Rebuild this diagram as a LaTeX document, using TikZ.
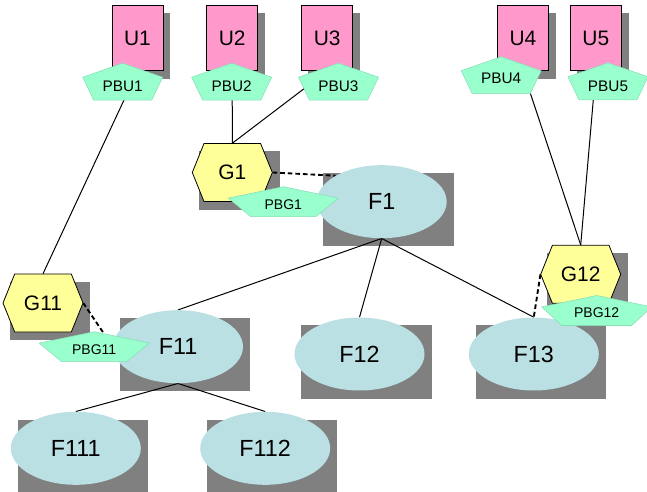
\documentclass[tikz,border=0pt]{standalone}
\usepackage{fontspec}
\setmainfont{Liberation Sans}
\usetikzlibrary{calc,shapes.geometric}

\definecolor{upink}{HTML}{FF99CC}
\definecolor{gyellow}{HTML}{FFFF99}
\definecolor{pmint}{HTML}{99FFCC}
\definecolor{pedge}{HTML}{86DDB6}
\definecolor{fblue}{HTML}{BBE0E3}
\definecolor{shadowgray}{HTML}{808080}

\pgfdeclarelayer{shadows}
\pgfdeclarelayer{links}
\pgfdeclarelayer{front}
\pgfsetlayers{shadows,links,main,front}

% hexagon: name, centre x, centre y, label
\newcommand\hexnode[4]{%
  \filldraw[hexfill] (#2,#3) ++(-40,0) -- ++(11.7,-29) -- ++(56.6,0)
    -- ++(11.7,29) -- ++(-11.7,29) -- ++(-56.6,0) -- cycle;
  \node[hexlabel] (#1) at (#2,#3) {#4};
}
% pentagon: name, cx, cy, half width, half height, bottom half width, label style, text offset, text
\newcommand\pentnode[9]{%
  \fill[pentfill] (#2,{#3-#5}) -- ({#2+#4},{#3-0.24*#5}) -- ({#2+#6},{#3+#5})
    -- ({#2-#6},{#3+#5}) -- ({#2-#4},{#3-0.24*#5}) -- cycle;
  \node[#7] (#1) at (#2,{#3+#8}) {#9};
}
% rectangular drop shadow behind a node's bounding box
\newcommand\castshadow[1]{%
  \fill[shadowfill] ($(#1.west |- #1.north)+(7,8)$) rectangle ($(#1.east |- #1.south)+(7,8)$);
}

\begin{document}
\begin{tikzpicture}[x=0.75pt,y=-0.75pt,
  ubox/.style={draw=black,line width=0.6pt,fill=upink,minimum width=38.25pt,
    minimum height=48.75pt,inner sep=0pt,font=\fontsize{15.7}{18}\selectfont},
  hexfill/.style={draw=black,line width=0.6pt,fill=gyellow},
  hexlabel/.style={minimum width=60pt,minimum height=43.5pt,inner sep=0pt,
    font=\fontsize{15.7}{18}\selectfont},
  fell/.style={ellipse,fill=fblue,minimum width=97.5pt,minimum height=54.75pt,
    inner sep=0pt,font=\fontsize{17.5}{20}\selectfont},
  pentfill/.style={fill=pmint,draw=pedge,line width=0.4pt},
  pbulabel/.style={inner sep=0pt,font=\fontsize{11.5}{13}\selectfont},
  pbglabel/.style={inner sep=0pt,font=\fontsize{10.5}{12}\selectfont},
  shadowfill/.style={fill=shadowgray},
  link/.style={draw=black,line width=0.75pt},
  assoc/.style={draw=black,line width=1.4pt,dash pattern=on 3.5pt off 2.2pt},
]
\useasboundingbox (0,0) rectangle (647,492);

% user boxes
\node[ubox] (U1) at (137.5,38.2) {U1};
\node[ubox] (U2) at (232.2,38.2) {U2};
\node[ubox] (U3) at (327.2,38.2) {U3};
\node[ubox] (U4) at (523,38.2) {U4};
\node[ubox] (U5) at (595.8,38.2) {U5};

% groups
\hexnode{G1}{232.3}{172.5}{G1}
\hexnode{G11}{43}{303}{G11}
\hexnode{G12}{580.7}{274.3}{G12}

% folders
\node[fell] (F1)   at (381.7,201.7) {F1};
\node[fell] (F11)  at (178,346.7)   {F11};
\node[fell] (F12)  at (359.5,354)   {F12};
\node[fell] (F13)  at (533.8,354)   {F13};
\node[fell] (F111) at (75.8,448.3)  {F111};
\node[fell] (F112) at (265.2,448.3) {F112};

% shadows
\begin{pgfonlayer}{shadows}
  \foreach \n in {U1,U2,U3,U4,U5,G1,G11,G12,F1,F11,F12,F13,F111,F112}
    {\castshadow{\n}}
\end{pgfonlayer}

% connectors
\begin{pgfonlayer}{links}
  \draw[link] (U1.south) -- (G11.north);
  \draw[link] (U2.south) -- (G1.north);
  \draw[link] (U3.south) -- (G1.north);
  \draw[link] (U4.south) -- (G12.north);
  \draw[link] (U5.south) -- (G12.north);
  \draw[link] (F1.south) -- (F11.north);
  \draw[link] (F1.south) -- (F12.north);
  \draw[link] (F1.south) -- (F13.north);
  \draw[link] (F11.south) -- (F111.north);
  \draw[link] (F11.south) -- (F112.north);
  \draw[assoc] (G1.east) -- (F1.north west);
  \draw[assoc] (G11.east) -- (F11.west);
  \draw[assoc] (G12.west) -- (F13.north);
\end{pgfonlayer}

% permission pentagons
\begin{pgfonlayer}{front}
  \pentnode{PBU1}{122.7}{81.7}{40}{18.5}{29}{pbulabel}{5}{PBU1}
  \pentnode{PBU2}{231.7}{81.7}{40}{18.5}{29}{pbulabel}{5}{PBU2}
  \pentnode{PBU3}{338.5}{81.7}{40}{18.5}{29}{pbulabel}{5}{PBU3}
  \pentnode{PBU4}{501.2}{75.2}{40}{18.5}{29}{pbulabel}{3.5}{PBU4}
  \pentnode{PBU5}{608}{81.3}{40}{18.5}{29}{pbulabel}{5.5}{PBU5}
  \pentnode{PBG1}{283.3}{201.7}{55}{15}{32.5}{pbglabel}{2.6}{PBG1}
  \pentnode{PBG11}{94.2}{346.7}{55}{15}{32.5}{pbglabel}{2.6}{PBG11}
  \pentnode{PBG12}{596.7}{310.5}{55}{15}{35}{pbglabel}{2.6}{PBG12}
\end{pgfonlayer}
\end{tikzpicture}
\end{document}
